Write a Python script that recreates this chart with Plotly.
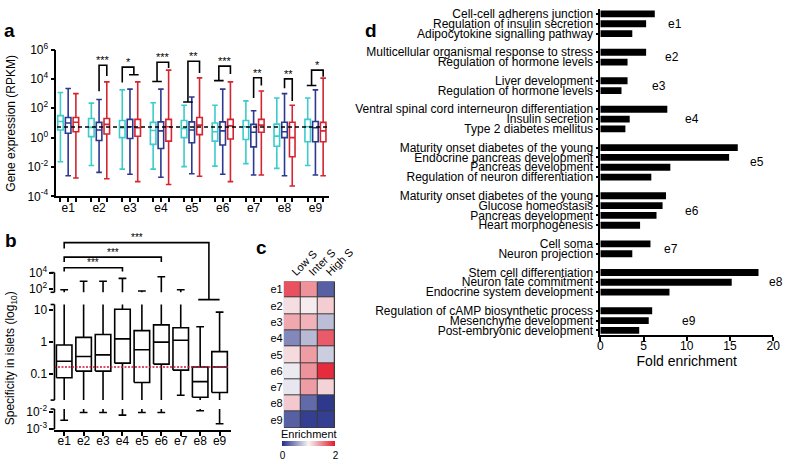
import plotly.graph_objects as go

FONT = "Liberation Sans, Arial, Helvetica, sans-serif"

# ---------------- data ----------------
clusters = ["e1", "e2", "e3", "e4", "e5", "e6", "e7", "e8", "e9"]

# Panel a: gene expression (log10 RPKM) box statistics, three islet cell populations
a_cyan_hi  = [3.07, 2.35, 3.25, 2.37, 2.20, 2.20, 2.50, 2.70, 2.70]
a_cyan_q3  = [1.50, 1.30, 1.17, 1.04, 1.17, 1.00, 1.17, 0.92, 1.24]
a_cyan_med = [1.10, 0.70, 0.67, 0.48, 0.63, 0.40, 0.74, 0.10, 0.74]
a_cyan_q1  = [0.52, 0.07, 0.00, -0.46, 0.00, -0.24, -0.13, -0.59, -0.28]
a_cyan_lo  = [-1.65, -1.90, -2.15, -2.15, -1.98, -1.94, -1.77, -2.10, -1.90]

a_navy_hi  = [3.35, 2.60, 3.30, 3.30, 2.77, 3.30, 1.83, 3.00, 3.25]
a_navy_q3  = [1.37, 1.04, 1.24, 1.07, 1.07, 1.07, 0.90, 1.05, 1.10]
a_navy_med = [1.00, 0.52, 0.74, 0.46, 0.52, 0.46, 0.37, 0.40, 0.67]
a_navy_q1  = [0.30, -0.20, -0.06, -0.74, -0.35, -0.50, -0.63, 0.00, -0.28]
a_navy_lo  = [-2.60, -2.37, -2.50, -2.70, -2.46, -2.50, -2.55, -2.60, -2.55]

a_red_hi   = [3.00, 3.80, 3.80, 4.60, 4.07, 3.80, 3.18, 2.20, 4.05]
a_red_q3   = [1.37, 1.30, 1.24, 1.24, 1.37, 1.24, 1.24, 1.05, 1.04]
a_red_med  = [1.05, 0.90, 0.67, 0.74, 0.85, 0.80, 0.85, 0.00, 0.46]
a_red_q1   = [0.40, 0.25, 0.09, -0.24, 0.20, -0.09, 0.37, -1.30, -0.28]
a_red_lo   = [-2.75, -2.80, -3.00, -3.20, -2.63, -3.00, -2.55, -3.30, -2.60]

a_reference_log = 0.72
a_sig_labels = ["***", "*", "***", "**", "***", "**", "**", "*"]   # e2..e9

# Panel b: specificity in islets (log10) box statistics
b_min_log = [-2.50, -2.05, -2.05, -2.20, -2.05, -2.05, -1.67, -1.95, -2.70]
b_q1_log  = [-1.12, -0.91, -0.91, -0.66, -1.27, -0.69, -0.88, -1.73, -1.58]
b_med_log = [-0.60, -0.45, -0.40, 0.10, -0.24, 0.00, 0.06, -1.24, -0.78]
b_q3_log  = [-0.09, 0.15, 0.24, 1.03, 0.36, 0.54, 0.45, -0.78, -0.30]
b_max_log = [1.90, 2.95, 2.95, 3.30, 1.75, 3.50, 1.90, 0.48, 0.94]
b_threshold_log = -0.78
b_sig_labels = ["***", "***", "***"]

# Panel c: enrichment heatmap
c_columns = ["Low S", "Inter S", "High S"]
c_enrichment = [
    [1.75, 1.45, 0.25],
    [1.10, 1.04, 1.18],
    [1.35, 1.30, 0.72],
    [0.45, 0.70, 1.70],
    [1.12, 1.40, 0.80],
    [0.95, 1.45, 1.92],
    [0.93, 1.40, 1.15],
    [1.20, 0.30, 0.05],
    [0.25, 0.08, 0.08],
]

# Panel d: GO term fold enrichment
d_cluster = ["e1", "e1", "e1", "e2", "e2", "e3", "e3", "e4", "e4", "e4",
             "e5", "e5", "e5", "e5", "e6", "e6", "e6", "e6", "e7", "e7",
             "e8", "e8", "e8", "e9", "e9", "e9"]
d_terms = [
    "Cell-cell adherens junction", "Regulation of insulin secretion", "Adipocytokine signalling pathway",
    "Multicellular organismal response to stress", "Regulation of hormone levels",
    "Liver development", "Regulation of hormone levels",
    "Ventral spinal cord interneuron differentiation", "Insulin secretion", "Type 2 diabetes mellitus",
    "Maturity onset diabetes of the young", "Endocrine pancreas development", "Pancreas development",
    "Regulation of neuron differentiation",
    "Maturity onset diabetes of the young", "Glucose homeostasis", "Pancreas development", "Heart morphogenesis",
    "Cell soma", "Neuron projection",
    "Stem cell differentiation", "Neuron fate commitment", "Endocrine system development",
    "Regulation of cAMP biosynthetic process", "Mesenchyme development", "Post-embryonic development",
]
d_fold = [6.3, 5.3, 3.7, 5.3, 3.15, 3.15, 2.45, 7.75, 3.4, 2.9,
          15.9, 14.9, 8.1, 5.9, 7.6, 7.2, 6.5, 4.6, 5.8, 3.7,
          18.3, 15.2, 8.0, 6.0, 5.6, 4.5]

# ---------------- layout helpers ----------------
W, H = 800, 464
def px_x(p): return p / W
def px_y(p): return 1 - p / H

CYAN, NAVY, RED = "#3cccca", "#2b3990", "#d42530"
LW = 1.6
fig = go.Figure()

# ---- panel a ----
n = len(clusters)
series = [
    (-0.25, CYAN, a_cyan_lo, a_cyan_q1, a_cyan_med, a_cyan_q3, a_cyan_hi),
    (0.0, NAVY, a_navy_lo, a_navy_q1, a_navy_med, a_navy_q3, a_navy_hi),
    (0.25, RED, a_red_lo, a_red_q1, a_red_med, a_red_q3, a_red_hi),
]
for off, col, lo, q1, med, q3, hi in series:
    fig.add_trace(go.Box(
        x=[i + off for i in range(n)],
        lowerfence=[10 ** v for v in lo], q1=[10 ** v for v in q1],
        median=[10 ** v for v in med], q3=[10 ** v for v in q3],
        upperfence=[10 ** v for v in hi],
        width=0.18, whiskerwidth=1, fillcolor="white", boxpoints=False,
        line=dict(color=col, width=LW), xaxis="x", yaxis="y",
        showlegend=False, hoverinfo="skip"))

fig.add_trace(go.Scatter(x=[-0.36, 8.42], y=[10 ** a_reference_log] * 2, mode="lines",
                         line=dict(color="black", width=1.5, dash="4px,3px"),
                         xaxis="x", yaxis="y", showlegend=False, hoverinfo="skip"))

# bracket geometry (log10 units): left end, right end, left foot, top, right foot
a_bracket_geom = [
    ("navy", "red", 3.16, 4.93, 4.20),
    ("cyan", "navy+red", 3.75, 4.80, 4.28),
    ("cyan+navy", "red", 3.82, 5.13, 4.75),
    ("cyan+navy", "red", 2.43, 5.20, 4.40),
    ("cyan+navy", "red", 3.88, 4.87, 4.34),
    ("navy", "red", 2.70, 4.08, 3.55),
    ("navy", "red", 3.36, 4.00, 2.50),
    ("cyan+navy", "red", 3.55, 4.60, 4.14),
]
OFF = {"cyan": -0.25, "navy": 0.0, "red": 0.25}
bx, by = [], []
for k, (le, re, lf, top, rf) in enumerate(a_bracket_geom):
    g = k + 1
    def leg(end):
        parts = end.split("+")
        xs = [g + OFF[p] for p in parts]
        return sum(xs) / len(xs), (min(xs), max(xs)) if len(xs) > 1 else None
    xl, barl = leg(le)
    xr, barr = leg(re)
    bx += [xl, xl, xr, xr, None]
    by += [10 ** lf, 10 ** top, 10 ** top, 10 ** rf, None]
    for bar, f in ((barl, lf), (barr, rf)):
        if bar:
            bx += [bar[0] - 0.03, bar[1] + 0.03, None]
            by += [10 ** f, 10 ** f, None]
    fig.add_annotation(x=(xl + xr) / 2, y=top, xref="x", yref="y", text=a_sig_labels[k],
                       showarrow=False, xanchor="center", yanchor="middle", yshift=5,
                       font=dict(size=11))
fig.add_trace(go.Scatter(x=bx, y=by, mode="lines", line=dict(color="black", width=LW),
                         xaxis="x", yaxis="y", showlegend=False, hoverinfo="skip"))

# ---- panel b (broken axis: log10 value -> display units) ----
B_SEG = [(-3.0, -1.85, -435.0, -414.3), (-1.82, 1.18, -405.06, -306.06), (1.6, 4.0, -293.4, -273.0)]
def seg_map(seg, v):
    lo, hi, d0, d1 = seg
    return d0 + (v - lo) * (d1 - d0) / (hi - lo)
def bmap(v):
    for seg in B_SEG:
        if seg[0] - 1e-9 <= v <= seg[1] + 1e-9:
            return seg_map(seg, v)
    raise ValueError(v)
def pieces(a, b):
    out = []
    for seg in B_SEG:
        s, e = max(a, seg[0]), min(b, seg[1])
        if s < e:
            out.append((seg_map(seg, s), seg_map(seg, e)))
    return out

BOX_HW, CAP_HW = 0.4, 0.2
boxx, boxy, wx, wy = [], [], [], []
for i in range(n):
    q1, md, q3 = bmap(b_q1_log[i]), bmap(b_med_log[i]), bmap(b_q3_log[i])
    boxx += [i - BOX_HW, i + BOX_HW, i + BOX_HW, i - BOX_HW, i - BOX_HW, None,
             i - BOX_HW, i + BOX_HW, None]
    boxy += [q1, q1, q3, q3, q1, None, md, md, None]
    for a, b in pieces(b_q3_log[i], b_max_log[i]) + pieces(b_min_log[i], b_q1_log[i]):
        wx += [i, i, None]
        wy += [a, b, None]
    for v in (b_min_log[i], b_max_log[i]):
        wx += [i - CAP_HW, i + CAP_HW, None]
        wy += [bmap(v), bmap(v), None]
fig.add_trace(go.Scatter(x=wx, y=wy, mode="lines", line=dict(color="black", width=LW),
                         xaxis="x2", yaxis="y2", showlegend=False, hoverinfo="skip"))
fig.add_trace(go.Scatter(x=boxx, y=boxy, mode="lines", line=dict(color="black", width=LW),
                         xaxis="x2", yaxis="y2", showlegend=False, hoverinfo="skip"))
fig.add_trace(go.Scatter(x=[-0.5, 8.45], y=[bmap(b_threshold_log)] * 2, mode="lines",
                         line=dict(color="#d0103a", width=1.4, dash="2px,1.5px"),
                         xaxis="x2", yaxis="y2", showlegend=False, hoverinfo="skip"))

# brackets (display units): left x, right x, left foot, top, right foot, foot bar
b_bracket_geom = [
    (0, 3, -272, -268, -272, None),
    (0, 5, -262, -257, -262, None),
    (0, 7.45, -248, -242, -301, (6.9, 8.0)),
]
bbx, bby = [], []
for k, (xl, xr, lf, top, rf, bar) in enumerate(b_bracket_geom):
    bbx += [xl, xl, xr, xr, None]
    bby += [lf, top, top, rf, None]
    if bar:
        bbx += [bar[0], bar[1], None]
        bby += [rf, rf, None]
    fig.add_annotation(x=(xl + xr) / 2, y=top, xref="x2", yref="y2", text=b_sig_labels[k],
                       showarrow=False, xanchor="center", yanchor="middle", yshift=5,
                       font=dict(size=10))
fig.add_trace(go.Scatter(x=bbx, y=bby, mode="lines", line=dict(color="black", width=LW),
                         xaxis="x2", yaxis="y2", showlegend=False, hoverinfo="skip"))

b_tick_logs = [4, 2, 1, 0, -1, -2, -3]
b_tick_text = ["10<sup>4</sup>", "10<sup>2</sup>", "10", "1", "0.1", "10<sup>-2</sup>", "10<sup>-3</sup>"]
shapes = []
for seg in B_SEG:
    shapes.append(dict(type="line", xref="x2 domain", yref="y2", x0=0, x1=0,
                       y0=seg[2], y1=seg[3], line=dict(color="black", width=LW)))
    for d in (seg[2], seg[3]):
        shapes.append(dict(type="line", xref="x2 domain", yref="y2", x0=-0.022, x1=0,
                           y0=d, y1=d, line=dict(color="black", width=LW)))

# ---- panel c ----
fig.add_trace(go.Heatmap(
    z=c_enrichment, x=c_columns, y=clusters, zmin=0, zmax=2, xgap=1, ygap=1,
    colorscale=[[0, "#232f88"], [0.5, "#f7f4f6"], [1, "#e31a2c"]],
    xaxis="x3", yaxis="y3", hoverinfo="skip",
    colorbar=dict(orientation="h", x=px_x(315), xanchor="center", y=px_y(447), yanchor="top",
                  len=53, lenmode="pixels", thickness=5, outlinewidth=0,
                  tickvals=[0, 2], ticks="", tickfont=dict(size=10), xpad=0, ypad=0)))
fig.add_annotation(x=px_x(315), y=px_y(440), xref="paper", yref="paper", text="Enrichment",
                   showarrow=False, xanchor="center", yanchor="middle", font=dict(size=11))
shapes.append(dict(type="rect", xref="x3", yref="y3", x0=-0.5, x1=2.5, y0=-0.5, y1=8.5,
                   fillcolor="#3a3a3a", line=dict(width=0), layer="below"))

# ---- panel d ----
GROUP_GAP = 1.9
d_pos, p = [], 0.0
for k, c in enumerate(d_cluster):
    if k > 0:
        p += 1.0 if c == d_cluster[k - 1] else GROUP_GAP
    d_pos.append(p)
fig.add_trace(go.Bar(x=d_fold, y=d_pos, orientation="h", width=0.7,
                     marker=dict(color="black", line=dict(width=0)),
                     xaxis="x4", yaxis="y4", showlegend=False, hoverinfo="skip"))
d_label_x = [7.6, 7.3, 5.8, 9.6, 17.1, 9.6, 7.1, 19.3, 9.2]
for k, c in enumerate(clusters):
    ps = [d_pos[j] for j in range(len(d_cluster)) if d_cluster[j] == c]
    fig.add_annotation(x=d_label_x[k], y=(min(ps) + max(ps)) / 2, xref="x4", yref="y4",
                       text=c, showarrow=False, xanchor="left", yanchor="middle",
                       font=dict(size=12))

# ---- panel letters and titles ----
for t, x, y in (("a", 7, 22), ("b", 8, 240), ("c", 266, 247), ("d", 379, 22)):
    fig.add_annotation(x=px_x(x), y=px_y(y), xref="paper", yref="paper", text=f"<b>{t}</b>",
                       showarrow=False, xanchor="center", yanchor="middle", font=dict(size=19))
fig.add_annotation(x=px_x(8), y=px_y(118), xref="paper", yref="paper", textangle=-90,
                   xanchor="center", yanchor="middle",
                   text="Gene expression (RPKM)", showarrow=False, font=dict(size=12))
fig.add_annotation(x=px_x(8), y=px_y(362), xref="paper", yref="paper", textangle=-90,
                   xanchor="center", yanchor="middle",
                   text="Specificity in islets (log<sub>10</sub>)", showarrow=False, font=dict(size=12))

AX = dict(showgrid=False, zeroline=False, linecolor="black", linewidth=LW,
          tickcolor="black", tickwidth=LW, ticklen=4, tickfont=dict(size=12))

fig.update_layout(
    width=W, height=H, margin=dict(l=0, r=0, t=0, b=0),
    paper_bgcolor="white", plot_bgcolor="white", showlegend=False,
    font=dict(family=FONT, size=12, color="black"),
    shapes=shapes,
    xaxis=dict(AX, domain=[px_x(55), px_x(336)], range=[-0.38, 8.45], anchor="y",
               showline=True, ticks="outside", tickvals=list(range(n)), ticktext=clusters,
               ticklabelstandoff=-5,
               minor=dict(tickvals=[i + o for i in range(n) for o in (-0.25, 0.25)],
                          ticks="outside", ticklen=4, tickwidth=LW, tickcolor="black")),
    yaxis=dict(AX, domain=[px_y(194), px_y(42)], type="log", range=[-4, 6], anchor="x",
               showline=True, ticks="outside",
               tickvals=[10 ** e for e in (-4, -2, 0, 2, 4, 6)],
               ticktext=["10<sup>-4</sup>", "10<sup>-2</sup>", "10<sup>0</sup>",
                         "10<sup>2</sup>", "10<sup>4</sup>", "10<sup>6</sup>"]),
    xaxis2=dict(AX, domain=[px_x(53), px_x(235)], range=[-0.5, 8.6], anchor="y2",
                showline=True, ticks="outside", tickvals=list(range(n)), ticktext=clusters,
                ticklabelstandoff=-5),
    yaxis2=dict(AX, domain=[px_y(436), px_y(226)], range=[-436, -226], anchor="x2",
                showline=False, ticks="outside",
                tickvals=[bmap(v) for v in b_tick_logs], ticktext=b_tick_text),
    xaxis3=dict(AX, domain=[px_x(289), px_x(342)], anchor="y3", side="top", tickangle=-45,
                ticks="", showline=False, tickfont=dict(size=11)),
    yaxis3=dict(AX, domain=[px_y(434), px_y(282)], anchor="x3", autorange="reversed",
                ticks="", showline=False, tickfont=dict(size=11)),
    xaxis4=dict(AX, domain=[px_x(615), px_x(793)], range=[0, 20], anchor="y4",
                showline=True, ticks="outside", tickvals=[0, 5, 10, 15, 20],
                ticklabelstandoff=-6,
                title=dict(text="Fold enrichment", standoff=0, font=dict(size=14))),
    yaxis4=dict(AX, domain=[px_y(338), 1.0], range=[d_pos[-1] + 0.5, -0.5], anchor="x4",
                showline=True, ticks="outside", ticklen=3, tickvals=d_pos, ticktext=d_terms),
)

fig.write_html("out.html", config={"displayModeBar": False},
               post_script="document.body.style.margin='0px';")
